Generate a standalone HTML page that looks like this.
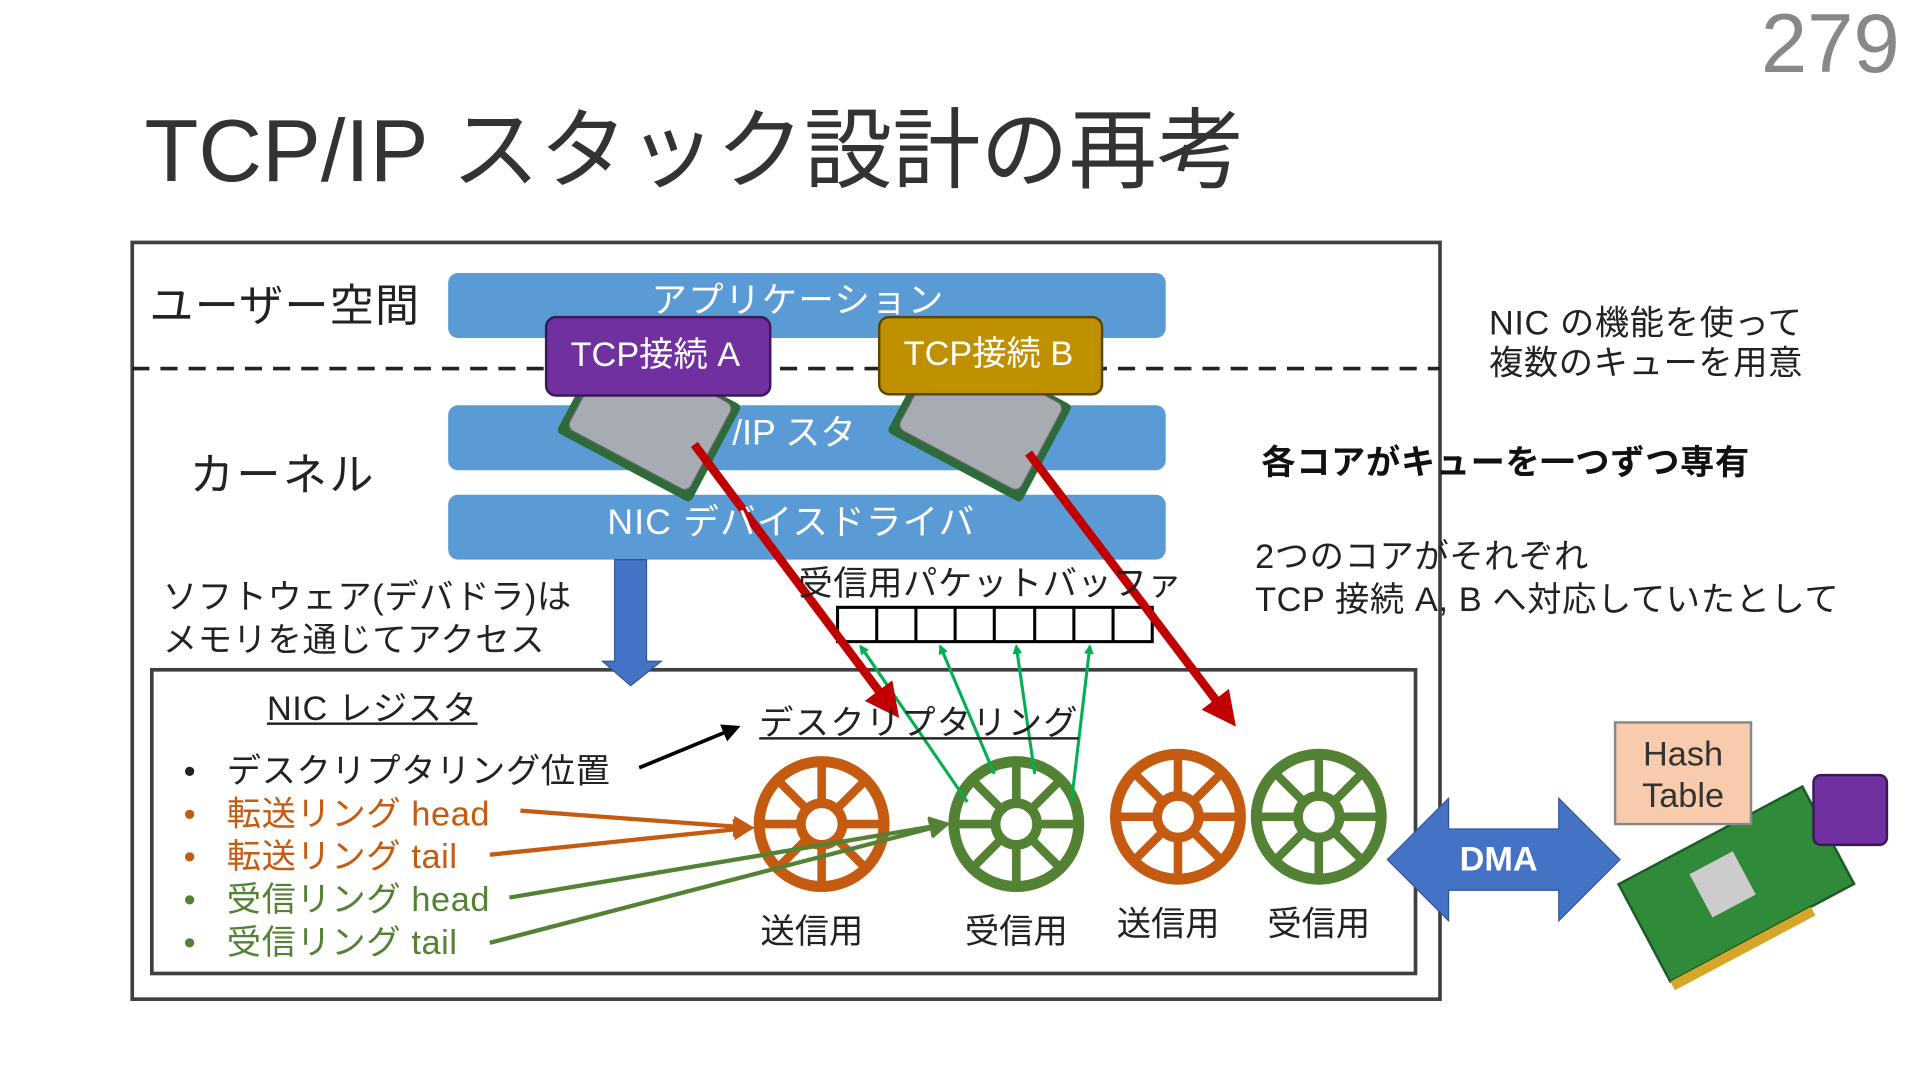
<!DOCTYPE html>
<html><head><meta charset="utf-8"><style>
html,body{margin:0;padding:0;width:1920px;height:1080px;overflow:hidden;background:#fff}
#w{position:absolute;left:0;top:0;width:1568px;height:882px;transform:scale(1.22449);transform-origin:0 0;font-family:"Liberation Sans","Noto Sans CJK JP",sans-serif}
.t{position:absolute;white-space:nowrap;line-height:1}
</style></head><body><div id="w">
<svg width="1568" height="882" style="position:absolute;left:0;top:0">
<defs>
<marker id="ar" markerWidth="4" markerHeight="4" refX="2.5" refY="2" orient="auto"><path d="M0,0L4,2L0,4z" fill="#c00000"/></marker>
<marker id="ag" markerWidth="8" markerHeight="8" refX="6" refY="4" orient="auto" markerUnits="userSpaceOnUse"><path d="M0,0L8,4L0,8z" fill="#00b050"/></marker>
<marker id="ak" markerWidth="5" markerHeight="5" refX="4" refY="2.5" orient="auto"><path d="M0,0L5,2.5L0,5z" fill="#000"/></marker>
<marker id="ao" markerWidth="5" markerHeight="5" refX="4" refY="2.5" orient="auto"><path d="M0,0L5,2.5L0,5z" fill="#c55a11"/></marker>
<marker id="agg" markerWidth="5" markerHeight="5" refX="4" refY="2.5" orient="auto"><path d="M0,0L5,2.5L0,5z" fill="#548235"/></marker>
<g id="ring"><circle r="51" fill="none" stroke-width="9"/><circle r="17" fill="none" stroke-width="8"/>
<g stroke-width="7"><line x1="0" y1="-17" x2="0" y2="-51"/><line x1="0" y1="17" x2="0" y2="51"/><line x1="-17" y1="0" x2="-51" y2="0"/><line x1="17" y1="0" x2="51" y2="0"/><line x1="12" y1="12" x2="36" y2="36"/><line x1="-12" y1="12" x2="-36" y2="36"/><line x1="12" y1="-12" x2="36" y2="-36"/><line x1="-12" y1="-12" x2="-36" y2="-36"/></g></g>
</defs>
<rect x="108" y="198" width="1068" height="618" fill="none" stroke="#404040" stroke-width="3"/>
<line x1="108" y1="301" x2="1176" y2="301" stroke="#222" stroke-width="3" stroke-dasharray="14,9"/>
<rect x="366" y="223" width="586" height="53" rx="8" fill="#5b9bd5"/>
<rect x="366" y="331" width="586" height="53" rx="8" fill="#5b9bd5"/>
<rect x="366" y="404" width="586" height="53" rx="8" fill="#5b9bd5"/>
<rect x="124" y="547" width="1032" height="248" fill="none" stroke="#404040" stroke-width="3"/>
<path d="M502,457H528V540H540L515,560L492,540H502Z" fill="#4472c4" stroke="#2f5597"/>
<g stroke="#000" stroke-width="2.5" fill="#fff"><rect x="684" y="496" width="257" height="28"/>
<line x1="716" y1="496" x2="716" y2="524"/><line x1="748" y1="496" x2="748" y2="524"/><line x1="780" y1="496" x2="780" y2="524"/><line x1="812" y1="496" x2="812" y2="524"/><line x1="845" y1="496" x2="845" y2="524"/><line x1="877" y1="496" x2="877" y2="524"/><line x1="909" y1="496" x2="909" y2="524"/></g>
<g transform="translate(530,342) rotate(28)"><rect x="-62" y="-45" width="124" height="90" fill="#2e6b3a" rx="4"/><rect x="-56" y="-42" width="112" height="80" fill="#a7acb2" stroke="#666" rx="6"/></g>
<g transform="translate(800,342) rotate(28)"><rect x="-62" y="-45" width="124" height="90" fill="#2e6b3a" rx="4"/><rect x="-56" y="-42" width="112" height="80" fill="#a7acb2" stroke="#666" rx="6"/></g>
<rect x="446" y="259" width="183" height="64" rx="8" fill="#7030a0" stroke="#3a1a55" stroke-width="2"/>
<rect x="718" y="259" width="182" height="63" rx="8" fill="#bf9000" stroke="#5a4500" stroke-width="2"/>
<use href="#ring" x="671" y="673" stroke="#c55a11"/>
<use href="#ring" x="830" y="673" stroke="#548235"/>
<use href="#ring" x="962" y="667" stroke="#c55a11"/>
<use href="#ring" x="1077" y="667" stroke="#548235"/>
<g stroke="#00b050" stroke-width="2.5" marker-end="url(#ag)"><line x1="790" y1="655" x2="703" y2="528"/><line x1="812" y1="632" x2="768" y2="528"/><line x1="845" y1="632" x2="830" y2="528"/><line x1="875" y1="655" x2="890" y2="528"/></g>
<line x1="567" y1="363" x2="728" y2="578" stroke="#c00000" stroke-width="7" marker-end="url(#ar)"/>
<line x1="840" y1="370" x2="1003" y2="585" stroke="#c00000" stroke-width="7" marker-end="url(#ar)"/>
<line x1="522" y1="627" x2="602" y2="594" stroke="#000" stroke-width="3" marker-end="url(#ak)"/>
<g stroke="#c55a11" stroke-width="3.5" marker-end="url(#ao)"><line x1="425" y1="662" x2="613" y2="676"/><line x1="400" y1="698" x2="613" y2="676"/></g>
<g stroke="#548235" stroke-width="3.5" marker-end="url(#agg)"><line x1="416" y1="733" x2="773" y2="673"/><line x1="400" y1="770" x2="773" y2="673"/></g>
<path d="M1133,702L1183,652V677H1273V652L1323,702L1273,752V727H1183V752Z" fill="#4472c4" stroke="#2f5597"/>
<g transform="translate(1418,722) rotate(-28)"><rect x="-85" y="-45" width="170" height="90" fill="#2f8a3a" stroke="#1d5a26" stroke-width="2"/><rect x="-30" y="-25" width="40" height="40" fill="#ccc"/><rect x="-85" y="45" width="130" height="8" fill="#d4a62a"/></g>
<rect x="1319" y="590" width="111" height="83" fill="#f8cbad" stroke="#888" stroke-width="2"/>
<rect x="1481" y="633" width="60" height="57" rx="6" fill="#7030a0" stroke="#3a1a55" stroke-width="2"/>
</svg>
<div class="t" style="left:1438px;top:2px;font-size:68px;color:#888">279</div>
<div class="t" style="left:118px;top:88px;font-size:72px;color:#333">TCP/IP スタック設計の再考</div>
<div class="t" style="left:122px;top:232px;font-size:36px;color:#222;letter-spacing:1px">ユーザー空間</div>
<div class="t" style="left:155px;top:370px;font-size:36px;color:#222;letter-spacing:2px">カーネル</div>
<div class="t" style="left:532px;top:232px;font-size:29px;color:#fff;letter-spacing:1px">アプリケーション</div>
<div class="t" style="left:598px;top:340px;font-size:29px;color:#fff">/IP スタ</div>
<div class="t" style="left:496px;top:413px;font-size:29px;color:#fff;letter-spacing:1px">NIC デバイスドライバ</div>
<div class="t" style="left:466px;top:276px;font-size:28px;color:#fff">TCP接続 A</div>
<div class="t" style="left:738px;top:275px;font-size:28px;color:#fff">TCP接続 B</div>
<div class="t" style="left:133px;top:470px;font-size:28px;color:#222;line-height:35px;letter-spacing:0.5px">ソフトウェア(デバドラ)は<br>メモリを通じてアクセス</div>
<div class="t" style="left:652px;top:463px;font-size:28px;color:#222;letter-spacing:0.5px">受信用パケットバッファ</div>
<div class="t" style="left:218px;top:565px;font-size:28px;color:#222;text-decoration:underline;letter-spacing:0.5px">NIC レジスタ</div>
<div class="t" style="left:620px;top:577px;font-size:28px;color:#222;text-decoration:underline;letter-spacing:1px">デスクリプタリング</div>
<div class="t" style="left:150px;top:612px;font-size:28px;line-height:35px;letter-spacing:0.5px">
<div style="color:#222">•&nbsp;&nbsp;&nbsp;デスクリプタリング位置</div>
<div style="color:#c55a11">•&nbsp;&nbsp;&nbsp;転送リング head</div>
<div style="color:#c55a11">•&nbsp;&nbsp;&nbsp;転送リング tail</div>
<div style="color:#548235">•&nbsp;&nbsp;&nbsp;受信リング head</div>
<div style="color:#548235">•&nbsp;&nbsp;&nbsp;受信リング tail</div></div>
<div class="t" style="left:621px;top:747px;font-size:28px;color:#222">送信用</div>
<div class="t" style="left:788px;top:747px;font-size:28px;color:#222">受信用</div>
<div class="t" style="left:912px;top:741px;font-size:28px;color:#222">送信用</div>
<div class="t" style="left:1035px;top:741px;font-size:28px;color:#222">受信用</div>
<div class="t" style="left:1192px;top:688px;font-size:28px;color:#fff;font-weight:bold">DMA</div>
<div class="t" style="left:1319px;top:599px;width:111px;text-align:center;font-size:28px;color:#333;line-height:34px">Hash<br>Table</div>
<div class="t" style="left:1216px;top:247px;font-size:28px;color:#222;line-height:33px;letter-spacing:0.5px">NIC の機能を使って<br>複数のキューを用意</div>
<div class="t" style="left:1030px;top:364px;font-size:28px;color:#111;font-weight:bold;letter-spacing:0.5px">各コアがキューを一つずつ専有</div>
<div class="t" style="left:1025px;top:437px;font-size:28px;color:#222;line-height:35px;letter-spacing:0.5px">2つのコアがそれぞれ<br>TCP 接続 A, B へ対応していたとして</div>
</div></body></html>
